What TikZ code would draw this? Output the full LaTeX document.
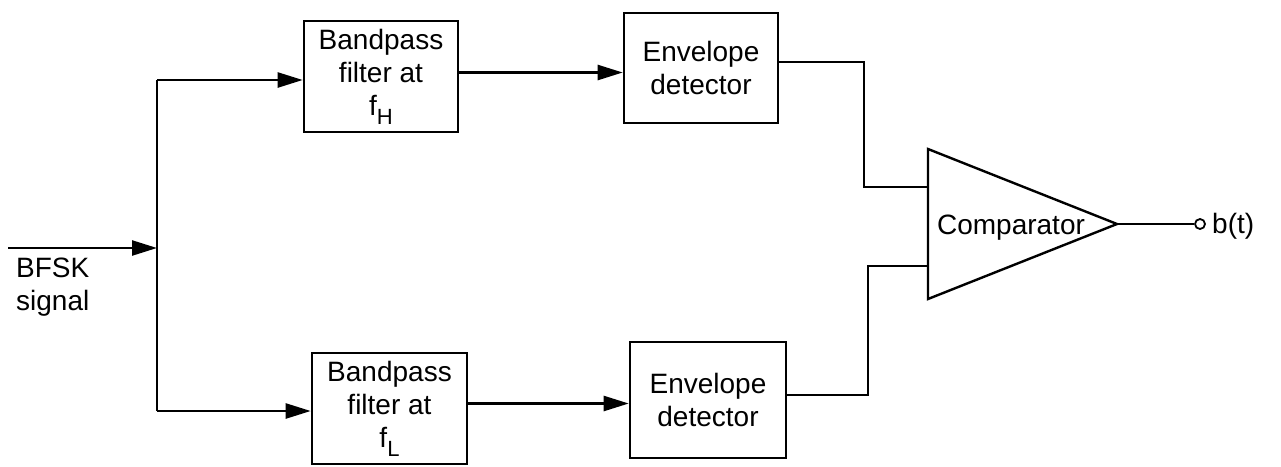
\documentclass[tikz,border=0pt]{standalone}
\usepackage{fontspec}
\setmainfont{Liberation Sans}
\usetikzlibrary{arrows.meta}
\newcommand{\subtxt}[1]{\raisebox{-9pt}{\fontsize{22}{22}\selectfont #1}}
\begin{document}
\begin{tikzpicture}[x=1pt,y=-1pt,line width=2.4pt,
  txt/.style={font=\fontsize{28}{33}\selectfont, inner sep=0pt},
  blk/.style={draw, txt, align=center, line width=2.6pt},
  arr/.style={-{Triangle[length=25pt,width=15pt]}}]
\useasboundingbox[fill=white] (0,0) rectangle (1281,466);

% blocks
\node[blk, minimum width=154pt, minimum height=111pt] (bp1) at (381,76.5) {Bandpass\\filter at\\f\subtxt{H}};
\node[blk, minimum width=154pt, minimum height=110pt] (env1) at (701,68) {Envelope\\detector};
\node[blk, minimum width=155pt, minimum height=111pt] (bp2) at (389.5,408.5) {Bandpass\\filter at\\f\subtxt{L}};
\node[blk, minimum width=156pt, minimum height=116pt] (env2) at (708,400) {Envelope\\detector};

% comparator
\coordinate (ct) at (928,149);
\coordinate (cb) at (928,299);
\coordinate (tip) at (1117,224);
\draw[line width=2.4pt, line join=miter] (ct) -- (tip) -- (cb) -- cycle;
\node[txt] (comp) at (1011,228) {Comparator};
\coordinate (c1) at (928,187);
\coordinate (c2) at (928,266);

% input
\coordinate (in) at (8,248);
\coordinate (jn) at (157,248);
\coordinate (vt) at (157,80);
\coordinate (vb) at (157,411);
\draw[arr] (in) -- (jn);
\node[txt, anchor=west, align=left] (lbl) at (15,287) {BFSK\\signal};
\draw (vt) -- (vb);

% connector anchors
\coordinate (o1) at ([yshift=4pt]bp1.east);
\coordinate (o2) at ([yshift=6pt]env1.east);
\coordinate (o3) at ([yshift=5pt]bp2.east);
\coordinate (o4) at ([yshift=5pt]env2.east);
\coordinate (k1) at (864,187);
\coordinate (k2) at (868,266);

% branches
\draw[arr] (vt) -- (bp1.west |- vt);
\draw[arr] (o1) -- (env1.west |- o1);
\draw (o2) -| (k1) -- (c1);

\draw[arr] (vb) -- (bp2.west |- vb);
\draw[arr] (o3) -- (env2.west |- o3);
\draw (o4) -| (k2) -- (c2);

% output
\node[circle, draw, line width=1.8pt, minimum size=10pt, inner sep=0pt] (oc) at (1200,224) {};
\draw (tip) -- (oc.west);
\node[txt, anchor=west] (bt) at (1211,226) {b(t)};
\end{tikzpicture}
\end{document}
